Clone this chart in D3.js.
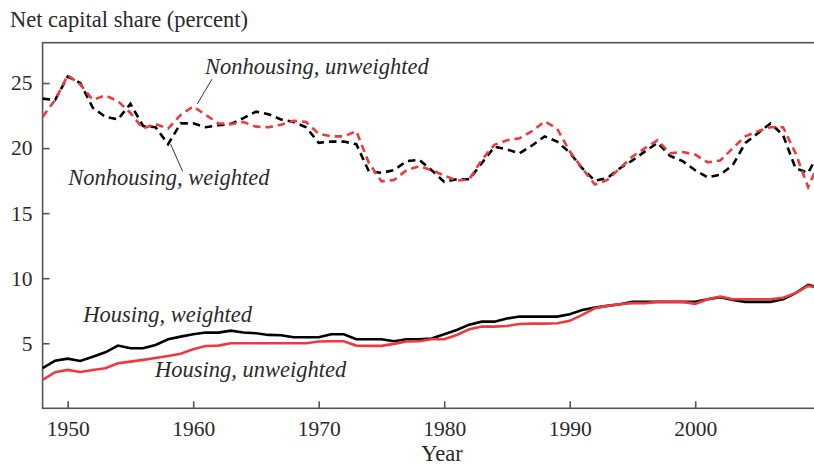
<!DOCTYPE html>
<html>
<head>
<meta charset="utf-8">
<script src="https://cdn.jsdelivr.net/npm/d3@7.9.0/dist/d3.min.js"></script>
<style>
  html, body { margin: 0; padding: 0; background: #fff; }
  svg { display: block; }
  text { font-family: "Liberation Serif", "Times New Roman", serif; fill: #2a2a2a; }
  .lbl { font-size: 22.5px; }
  .note { font-size: 22.5px; font-style: italic; }
</style>
</head>
<body>
<svg id="chart" width="814" height="466"></svg>
<script>
// years 1948 - 2010
const years = d3.range(1948, 2011);

// nonhousing, weighted (black dashed)
const nonhousingWeighted = [
  23.8, 23.7, 25.5, 25.0, 23.1, 22.4, 22.2, 23.4, 21.7, 21.6,
  20.3, 21.9, 21.9, 21.6, 21.75, 21.85, 22.3, 22.8, 22.6, 22.2,
  22.0, 21.6, 20.4, 20.5, 20.5, 20.3, 18.2, 18.1, 18.3, 19.0,
  19.1, 18.3, 17.4, 17.6, 17.6, 18.85, 20.1, 19.9, 19.6, 20.2,
  20.9, 20.5, 19.65, 18.45, 17.5, 17.7, 18.45, 19.05, 19.75, 20.4,
  19.4, 19.0, 18.3, 17.75, 17.95, 18.7, 20.4, 21.15, 21.9, 21.0,
  18.45, 18.1, 19.9
];

// nonhousing, unweighted (red dashed)
const nonhousingUnweighted = [
  22.4, 23.7, 25.6, 24.9, 23.7, 24.05, 23.6, 22.7, 21.5, 21.85,
  21.5, 22.55, 23.2, 22.55, 21.9, 21.85, 22.0, 21.65, 21.6, 21.8,
  22.1, 22.0, 21.1, 20.9, 20.9, 21.3, 18.85, 17.45, 17.55, 18.3,
  18.6, 18.3, 17.9, 17.5, 17.6, 19.1, 20.25, 20.6, 20.75, 21.3,
  22.05, 21.5, 19.75, 18.45, 17.2, 17.55, 18.45, 19.35, 20.0, 20.6,
  19.6, 19.7, 19.5, 18.9, 19.05, 20.0, 20.9, 21.3, 21.6, 21.6,
  19.6, 17.0, 19.2
];

// housing, weighted (black solid)
const housingWeighted = [
  3.08, 3.66, 3.82, 3.64, 3.97, 4.3, 4.82, 4.61, 4.61, 4.87,
  5.31, 5.51, 5.69, 5.82, 5.82, 5.97, 5.82, 5.77, 5.64, 5.62,
  5.46, 5.46, 5.46, 5.69, 5.69, 5.31, 5.31, 5.31, 5.15, 5.31,
  5.31, 5.36, 5.69, 6.02, 6.43, 6.66, 6.66, 6.9, 7.05, 7.05,
  7.05, 7.05, 7.23, 7.56, 7.74, 7.87, 8.0, 8.18, 8.18, 8.18,
  8.18, 8.18, 8.18, 8.38, 8.54, 8.33, 8.18, 8.18, 8.18, 8.38,
  8.85, 9.49, 9.23
];

// housing, unweighted (red solid)
const housingUnweighted = [
  2.18, 2.77, 2.95, 2.79, 2.95, 3.08, 3.46, 3.59, 3.72, 3.87,
  4.02, 4.2, 4.54, 4.79, 4.82, 5.0, 5.0, 5.0, 5.0, 5.0,
  5.0, 5.0, 5.13, 5.15, 5.15, 4.82, 4.8, 4.8, 4.95, 5.13,
  5.15, 5.31, 5.31, 5.64, 6.07, 6.28, 6.28, 6.33, 6.48, 6.51,
  6.51, 6.54, 6.72, 7.18, 7.69, 7.87, 8.0, 8.08, 8.08, 8.18,
  8.18, 8.18, 8.03, 8.38, 8.59, 8.38, 8.38, 8.38, 8.38, 8.5,
  8.85, 9.41, 9.23
];

const yTicks = [5, 10, 15, 20, 25];
const xTicks = [1950, 1960, 1970, 1980, 1990, 2000];

// series labels placed in data units: [text, year, value]
const notes = [
  ['Nonhousing, unweighted', 1960.94, 25.68],
  ['Nonhousing, weighted', 1950.05, 17.2],
  ['Housing, weighted', 1951.24, 6.66],
  ['Housing, unweighted', 1956.96, 2.43]
];
// leader lines: [year1, value1, year2, value2]
const leaders = [
  [1960.33, 23.4, 1961.5, 25.3],
  [1958.2, 20.3, 1959.16, 18.2]
];

const red = '#ee3a3f';
const serif = '"Liberation Serif", "Times New Roman", serif';
const svg = d3.select('#chart');

const x = d3.scaleLinear().domain([1948, 2010]).range([42.6, 820.7]);
const y = d3.scaleLinear().domain([0, 28.1]).range([408.3, 42.7]);

// frame
svg.append('rect')
  .attr('x', x(1948)).attr('y', y(28.1))
  .attr('width', x(2010) - x(1948)).attr('height', y(0) - y(28.1))
  .attr('fill', 'none').attr('stroke', '#555').attr('stroke-width', 1.6);

let yAxis = svg.append('g')
  .attr('transform', `translate(${x(1948)},0)`)
  .call(d3.axisLeft(y).tickValues(yTicks).tickSize(-7).tickPadding(10));

let xAxis = svg.append('g')
  .attr('transform', `translate(0,${y(0)})`)
  .call(d3.axisBottom(x).tickValues(xTicks).tickFormat(d3.format('d')).tickSize(-7).tickPadding(12));

[yAxis, xAxis].forEach(a => {
  a.select('.domain').remove();
  a.attr('font-family', serif).attr('font-size', 21.5);
  a.selectAll('line').attr('stroke', '#555').attr('stroke-width', 1.6);
  a.selectAll('text').attr('fill', '#2a2a2a').style('font-family', serif);
});

const line = d3.line().x((d, i) => x(years[i])).y(d => y(d));

const series = [
  { values: nonhousingWeighted, color: '#000', dash: '7.5,5' },
  { values: nonhousingUnweighted, color: red, dash: '7.5,5' },
  { values: housingWeighted, color: '#000', dash: null },
  { values: housingUnweighted, color: red, dash: null }
];

series.forEach(s => {
  svg.append('path')
    .attr('d', line(s.values))
    .attr('fill', 'none')
    .attr('stroke', s.color)
    .attr('stroke-width', 2.6)
    .attr('stroke-dasharray', s.dash);
});

leaders.forEach(l => {
  svg.append('line')
    .attr('x1', x(l[0])).attr('y1', y(l[1]))
    .attr('x2', x(l[2])).attr('y2', y(l[3]))
    .attr('stroke', '#333').attr('stroke-width', 1);
});

notes.forEach(n => {
  svg.append('text').attr('class', 'note')
    .attr('x', x(n[1])).attr('y', y(n[2]))
    .text(n[0]);
});

svg.append('text').attr('class', 'lbl')
  .attr('x', 10).attr('y', 27)
  .text('Net capital share (percent)');

svg.append('text').attr('class', 'lbl')
  .attr('x', 442).attr('y', 461)
  .attr('text-anchor', 'middle')
  .text('Year');
</script>
</body>
</html>
